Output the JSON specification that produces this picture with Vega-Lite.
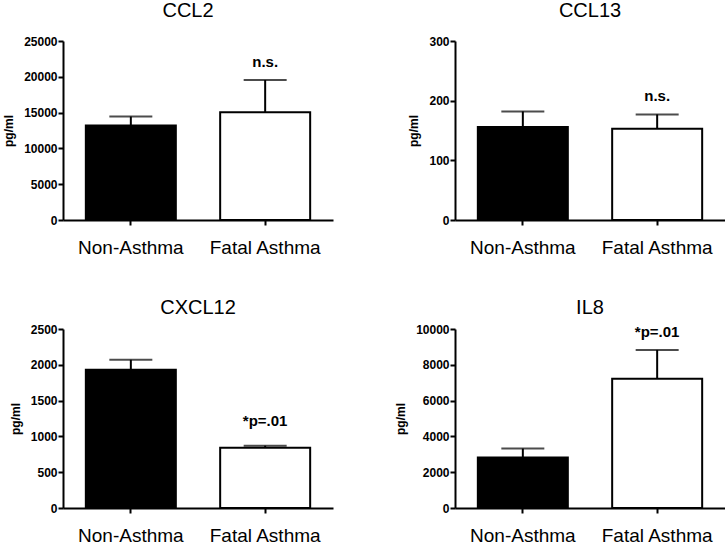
{
  "$schema": "https://vega.github.io/schema/vega-lite/v6.json",
  "padding": {"left": 2, "top": 1, "right": 0, "bottom": 0},
  "background": "white",
  "data": {"values": [
    {"panel": "CCL2", "group": "Non-Asthma", "mean": 13200, "err": 14450, "sig": ""},
    {"panel": "CCL2", "group": "Fatal Asthma", "mean": 15050, "err": 19550, "sig": "n.s."},
    {"panel": "CCL13", "group": "Non-Asthma", "mean": 156, "err": 182, "sig": ""},
    {"panel": "CCL13", "group": "Fatal Asthma", "mean": 153, "err": 177, "sig": "n.s."},
    {"panel": "CXCL12", "group": "Non-Asthma", "mean": 1930, "err": 2070, "sig": ""},
    {"panel": "CXCL12", "group": "Fatal Asthma", "mean": 840, "err": 870, "sig": "*p=.01"},
    {"panel": "IL8", "group": "Non-Asthma", "mean": 2820, "err": 3320, "sig": ""},
    {"panel": "IL8", "group": "Fatal Asthma", "mean": 7220, "err": 8830, "sig": "*p=.01"}
  ]},
  "columns": 2,
  "bounds": "flush",
  "spacing": {"row": 109, "column": 122},
  "concat": [
    {
      "title": {"text": "CCL2", "dx": -10, "offset": 14},
      "width": 270, "height": 179,
      "transform": [{"filter": "datum.panel === 'CCL2'"}],
      "encoding": {"x": {"field": "group", "type": "nominal", "sort": ["Non-Asthma", "Fatal Asthma"], "scale": {"paddingInner": 0.33, "paddingOuter": 0.17}}},
      "layer": [
        {"mark": {"type": "rule", "strokeWidth": 2, "color": "black"}, "encoding": {"y": {"field": "mean", "type": "quantitative", "scale": {"domain": [0, 25000], "nice": false}, "axis": {"values": [0, 5000, 10000, 15000, 20000, 25000], "format": "d", "title": "pg/ml"}}, "y2": {"field": "err"}}},
        {"mark": {"type": "tick", "size": 43, "thickness": 2, "color": "black", "orient": "horizontal"}, "encoding": {"y": {"field": "err", "type": "quantitative", "scale": {"domain": [0, 25000], "nice": false}, "axis": {"values": [0, 5000, 10000, 15000, 20000, 25000], "format": "d", "title": "pg/ml"}}}},
        {"mark": {"type": "bar", "stroke": "black", "strokeWidth": 2}, "encoding": {"y": {"field": "mean", "type": "quantitative", "scale": {"domain": [0, 25000], "nice": false}, "axis": {"values": [0, 5000, 10000, 15000, 20000, 25000], "format": "d", "title": "pg/ml"}}, "fill": {"field": "group", "type": "nominal", "scale": {"domain": ["Non-Asthma", "Fatal Asthma"], "range": ["black", "white"]}, "legend": null}}},
        {"transform": [{"filter": "datum.sig !== ''"}], "mark": {"type": "text", "font": "Liberation Sans", "fontWeight": "bold", "fontSize": 15, "dy": -18, "color": "black"}, "encoding": {"y": {"field": "err", "type": "quantitative", "scale": {"domain": [0, 25000], "nice": false}, "axis": {"values": [0, 5000, 10000, 15000, 20000, 25000], "format": "d", "title": "pg/ml"}}, "text": {"field": "sig"}}}
      ]
    },
    {
      "title": {"text": "CCL13", "offset": 14},
      "width": 270, "height": 179,
      "transform": [{"filter": "datum.panel === 'CCL13'"}],
      "encoding": {"x": {"field": "group", "type": "nominal", "sort": ["Non-Asthma", "Fatal Asthma"], "scale": {"paddingInner": 0.33, "paddingOuter": 0.17}}},
      "layer": [
        {"mark": {"type": "rule", "strokeWidth": 2, "color": "black"}, "encoding": {"y": {"field": "mean", "type": "quantitative", "scale": {"domain": [0, 300], "nice": false}, "axis": {"values": [0, 100, 200, 300], "format": "d", "title": "pg/ml"}}, "y2": {"field": "err"}}},
        {"mark": {"type": "tick", "size": 43, "thickness": 2, "color": "black", "orient": "horizontal"}, "encoding": {"y": {"field": "err", "type": "quantitative", "scale": {"domain": [0, 300], "nice": false}, "axis": {"values": [0, 100, 200, 300], "format": "d", "title": "pg/ml"}}}},
        {"mark": {"type": "bar", "stroke": "black", "strokeWidth": 2}, "encoding": {"y": {"field": "mean", "type": "quantitative", "scale": {"domain": [0, 300], "nice": false}, "axis": {"values": [0, 100, 200, 300], "format": "d", "title": "pg/ml"}}, "fill": {"field": "group", "type": "nominal", "scale": {"domain": ["Non-Asthma", "Fatal Asthma"], "range": ["black", "white"]}, "legend": null}}},
        {"transform": [{"filter": "datum.sig !== ''"}], "mark": {"type": "text", "font": "Liberation Sans", "fontWeight": "bold", "fontSize": 15, "dy": -18, "color": "black"}, "encoding": {"y": {"field": "err", "type": "quantitative", "scale": {"domain": [0, 300], "nice": false}, "axis": {"values": [0, 100, 200, 300], "format": "d", "title": "pg/ml"}}, "text": {"field": "sig"}}}
      ]
    },
    {
      "title": {"text": "CXCL12", "offset": 5},
      "width": 270, "height": 179,
      "transform": [{"filter": "datum.panel === 'CXCL12'"}],
      "encoding": {"x": {"field": "group", "type": "nominal", "sort": ["Non-Asthma", "Fatal Asthma"], "scale": {"paddingInner": 0.33, "paddingOuter": 0.17}}},
      "layer": [
        {"mark": {"type": "rule", "strokeWidth": 2, "color": "black"}, "encoding": {"y": {"field": "mean", "type": "quantitative", "scale": {"domain": [0, 2500], "nice": false}, "axis": {"values": [0, 500, 1000, 1500, 2000, 2500], "format": "d", "title": "pg/ml"}}, "y2": {"field": "err"}}},
        {"mark": {"type": "tick", "size": 43, "thickness": 2, "color": "black", "orient": "horizontal"}, "encoding": {"y": {"field": "err", "type": "quantitative", "scale": {"domain": [0, 2500], "nice": false}, "axis": {"values": [0, 500, 1000, 1500, 2000, 2500], "format": "d", "title": "pg/ml"}}}},
        {"mark": {"type": "bar", "stroke": "black", "strokeWidth": 2}, "encoding": {"y": {"field": "mean", "type": "quantitative", "scale": {"domain": [0, 2500], "nice": false}, "axis": {"values": [0, 500, 1000, 1500, 2000, 2500], "format": "d", "title": "pg/ml"}}, "fill": {"field": "group", "type": "nominal", "scale": {"domain": ["Non-Asthma", "Fatal Asthma"], "range": ["black", "white"]}, "legend": null}}},
        {"transform": [{"filter": "datum.sig !== ''"}], "mark": {"type": "text", "font": "Liberation Sans", "fontWeight": "bold", "fontSize": 15, "dy": -25, "color": "black"}, "encoding": {"y": {"field": "err", "type": "quantitative", "scale": {"domain": [0, 2500], "nice": false}, "axis": {"values": [0, 500, 1000, 1500, 2000, 2500], "format": "d", "title": "pg/ml"}}, "text": {"field": "sig"}}}
      ]
    },
    {
      "title": {"text": "IL8", "offset": 5},
      "width": 270, "height": 179,
      "transform": [{"filter": "datum.panel === 'IL8'"}],
      "encoding": {"x": {"field": "group", "type": "nominal", "sort": ["Non-Asthma", "Fatal Asthma"], "scale": {"paddingInner": 0.33, "paddingOuter": 0.17}}},
      "layer": [
        {"mark": {"type": "rule", "strokeWidth": 2, "color": "black"}, "encoding": {"y": {"field": "mean", "type": "quantitative", "scale": {"domain": [0, 10000], "nice": false}, "axis": {"values": [0, 2000, 4000, 6000, 8000, 10000], "format": "d", "title": "pg/ml"}}, "y2": {"field": "err"}}},
        {"mark": {"type": "tick", "size": 43, "thickness": 2, "color": "black", "orient": "horizontal"}, "encoding": {"y": {"field": "err", "type": "quantitative", "scale": {"domain": [0, 10000], "nice": false}, "axis": {"values": [0, 2000, 4000, 6000, 8000, 10000], "format": "d", "title": "pg/ml"}}}},
        {"mark": {"type": "bar", "stroke": "black", "strokeWidth": 2}, "encoding": {"y": {"field": "mean", "type": "quantitative", "scale": {"domain": [0, 10000], "nice": false}, "axis": {"values": [0, 2000, 4000, 6000, 8000, 10000], "format": "d", "title": "pg/ml"}}, "fill": {"field": "group", "type": "nominal", "scale": {"domain": ["Non-Asthma", "Fatal Asthma"], "range": ["black", "white"]}, "legend": null}}},
        {"transform": [{"filter": "datum.sig !== ''"}], "mark": {"type": "text", "font": "Liberation Sans", "fontWeight": "bold", "fontSize": 15, "dy": -18, "color": "black"}, "encoding": {"y": {"field": "err", "type": "quantitative", "scale": {"domain": [0, 10000], "nice": false}, "axis": {"values": [0, 2000, 4000, 6000, 8000, 10000], "format": "d", "title": "pg/ml"}}, "text": {"field": "sig"}}}
      ]
    }
  ],
  "config": {
    "view": {"stroke": null},
    "font": "Liberation Sans",
    "title": {"font": "Liberation Sans", "fontSize": 20, "fontWeight": "normal", "color": "black", "offset": 11, "anchor": "middle", "frame": "group"},
    "axis": {"grid": false, "domainColor": "black", "domainWidth": 2, "tickColor": "black", "tickWidth": 2, "tickSize": 5, "labelColor": "black", "labelFont": "Liberation Sans", "titleFont": "Liberation Sans", "titleColor": "black"},
    "axisX": {"title": null, "labelAngle": 0, "labelFontSize": 19, "labelFontWeight": "normal", "labelPadding": 13},
    "axisY": {"labelFontSize": 12, "labelFontWeight": "bold", "labelPadding": 1, "labelOverlap": false, "titleFontSize": 12, "titleFontWeight": "bold", "titlePadding": 8}
  }
}
